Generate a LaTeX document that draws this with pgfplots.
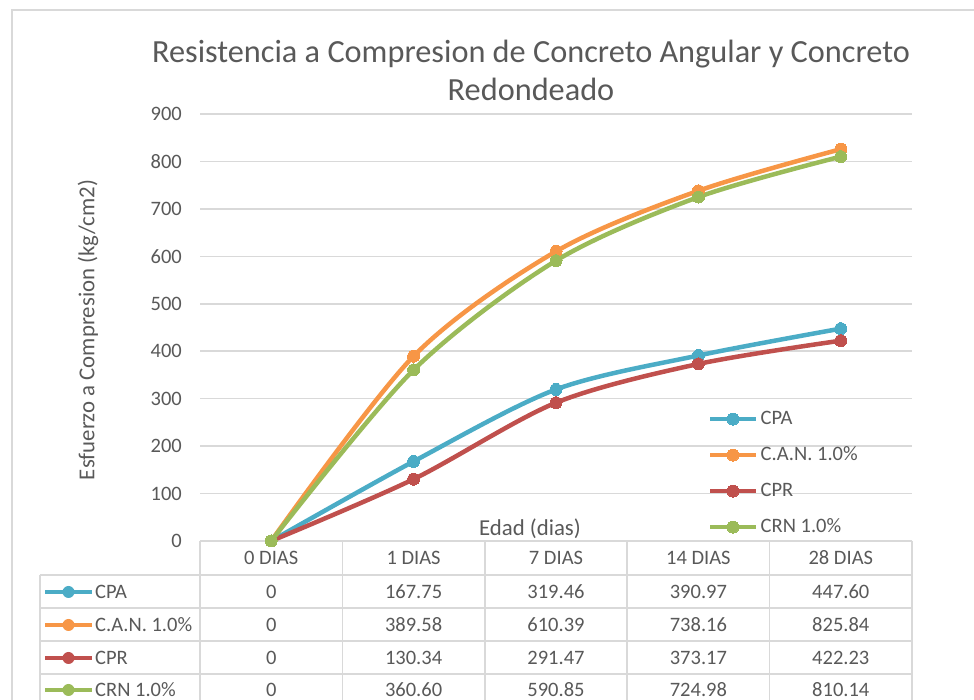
\documentclass[border=0pt]{standalone}
\usepackage{pgfplots}
\pgfplotsset{compat=1.18}
\usepackage{fontspec}
\setmainfont{Carlito}
\definecolor{cpa}{HTML}{4BACC6}
\definecolor{can}{HTML}{F79646}
\definecolor{cpr}{HTML}{C0504D}
\definecolor{crn}{HTML}{9BBB59}
\definecolor{txt}{HTML}{595959}
\definecolor{grd}{HTML}{D9D9D9}
\newcommand{\tabfont}{\fontsize{20.5}{24}\selectfont}
\begin{document}
\begin{tikzpicture}[tabtxt/.style={font=\tabfont, text=txt, inner sep=0pt}]
\useasboundingbox (0pt,0pt) rectangle (974pt,700pt);
\begin{scope}
\clip (0pt,0pt) rectangle (974pt,700pt);
\draw[grd, line width=1.5pt] (12pt,-20pt) -- (12pt,690pt) -- (1000pt,690pt);
\draw[grd, line width=1.5pt] (200pt,159pt) -- (912pt,159pt);
\foreach \y in {125,92,59,26} \draw[grd,line width=1.5pt] (40pt,\y pt) -- (912pt,\y pt);
\draw[grd,line width=1.5pt] (40pt,125pt) -- (40pt,-10pt);
\foreach \x in {200,342.4,484.8,627.2,769.6,912} \draw[grd,line width=1.5pt] (\x pt,159pt) -- (\x pt,-10pt);
\end{scope}
\begin{axis}[
  at={(200pt,159pt)}, anchor=south west,
  scale only axis, width=712pt, height=427pt,
  xmin=-0.5, xmax=4.5, ymin=0, ymax=900,
  xtick=\empty, ytick={0,100,...,900},
  axis line style={draw=none},
  major tick length=0pt,
  ymajorgrids, grid style={grd, line width=1.5pt},
  /pgf/number format/assume math mode=true,
  yticklabel style={font=\tabfont, text=txt, inner sep=0pt, xshift=-18pt},
  ylabel={Esfuerzo a Compresion (kg/cm2)},
  every axis y label/.style={at={(axis description cs:-0.1573,0.494)}, rotate=90, anchor=center, font=\fontsize{22.8}{27}\selectfont, text=txt},
  xlabel={Edad (dias)},
  every axis x label/.style={at={(axis description cs:0.4635,0.028)}, anchor=center, font=\fontsize{22.8}{27}\selectfont, text=txt},
  title={Resistencia a Compresion de Concreto Angular y Concreto\\Redondeado},
  title style={at={(axis description cs:0.4649,1.089)}, anchor=center, align=center, font=\fontsize{32.3}{38}\selectfont, text=txt},
  clip=false,
  legend style={at={(axis description cs:0.7135,0.159)}, anchor=west, draw=none, fill=none, font=\tabfont, text=txt, inner sep=0pt, row sep=18pt, nodes={inner xsep=3pt, inner ysep=0pt, text height=14pt, text depth=4pt}},
  legend cell align=left,
  legend image code/.code={\draw[#1, mark repeat=2, mark phase=2] plot coordinates {(0pt,0pt)(22.5pt,0pt)(45pt,0pt)};},
  every axis plot/.append style={line width=4.5pt, mark=*, mark size=6pt, smooth, tension=0.5},
]
\addplot[cpa, mark options={fill=cpa, draw=cpa, line width=0pt}] coordinates {(0,0) (1,167.75) (2,319.46) (3,390.97) (4,447.60)};
\addlegendentry{CPA}
\addplot[can, mark options={fill=can, draw=can, line width=0pt}] coordinates {(0,0) (1,389.58) (2,610.39) (3,738.16) (4,825.84)};
\addlegendentry{C.A.N. 1.0\%}
\addplot[cpr, mark options={fill=cpr, draw=cpr, line width=0pt}] coordinates {(0,0) (1,130.34) (2,291.47) (3,373.17) (4,422.23)};
\addlegendentry{CPR}
\addplot[crn, mark options={fill=crn, draw=crn, line width=0pt}] coordinates {(0,0) (1,360.60) (2,590.85) (3,724.98) (4,810.14)};
\addlegendentry{CRN 1.0\%}
\end{axis}
% data table text
\foreach \x/\lab in {271.2/0 DIAS,413.6/1 DIAS,556/7 DIAS,698.4/14 DIAS,840.8/28 DIAS}
  \node[tabtxt] at (\x pt, 142pt) {\lab};
\foreach \y/\c/\n/\a/\b/\cc/\d/\e in {108/cpa/CPA/0/167.75/319.46/390.97/447.60,
  75/can/C.A.N. 1.0\%/0/389.58/610.39/738.16/825.84,
  42/cpr/CPR/0/130.34/291.47/373.17/422.23,
  10/crn/CRN 1.0\%/0/360.60/590.85/724.98/810.14}{
  \draw[\c, line width=4.5pt] (45pt,\y pt) -- (92pt,\y pt);
  \fill[\c] (68.5pt,\y pt) circle (6pt);
  \node[tabtxt, anchor=west] at (95pt,\y pt) {\n};
  \node[tabtxt] at (271.2pt,\y pt) {\a};
  \node[tabtxt] at (413.6pt,\y pt) {\b};
  \node[tabtxt] at (556pt,\y pt) {\cc};
  \node[tabtxt] at (698.4pt,\y pt) {\d};
  \node[tabtxt] at (840.8pt,\y pt) {\e};
}
\end{tikzpicture}
\end{document}
